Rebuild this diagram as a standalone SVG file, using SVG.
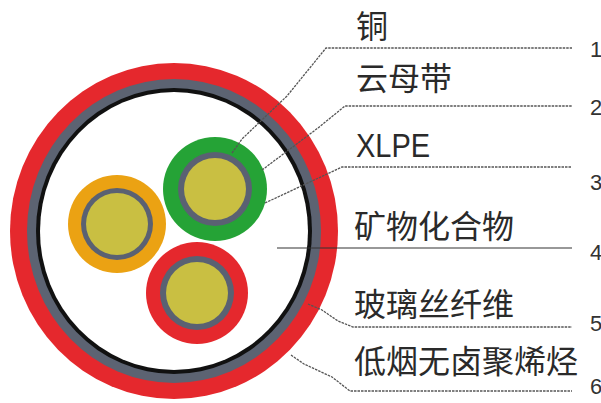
<svg xmlns="http://www.w3.org/2000/svg" width="601" height="403" viewBox="0 0 601 403">
  <style>
    .lbl { font-family: "Noto Sans CJK SC", "Liberation Sans", sans-serif; font-size: 32px; fill: #2a2a2a; }
    .lat { font-family: "Liberation Sans", "Noto Sans", sans-serif; font-size: 29px; fill: #2a2a2a; }
    .num { font-family: "Liberation Sans", sans-serif; font-size: 22px; fill: #333; }
    .lead { fill: none; stroke: #555; stroke-width: 1.3; stroke-dasharray: 2.5 1; }
    .lead-solid { fill: none; stroke: #333; stroke-width: 1.2; }
    .cond { fill: #c9bf42; }
    .screen { fill: #5a6172; }
  </style>

  <rect width="601" height="403" fill="#fff"/>

  <!-- outer sheath, armour band and mineral filling -->
  <g id="sheath">
    <ellipse cx="174" cy="231" rx="164" ry="168" fill="#e5282d"/>
    <ellipse cx="174" cy="231" rx="147" ry="152" fill="#5c6372"/>
    <ellipse cx="174" cy="231" rx="138" ry="143" fill="#111"/>
    <ellipse cx="174" cy="231" rx="134" ry="139" fill="#fff"/>
  </g>

  <!-- three insulated cores -->
  <g id="core-orange">
    <circle cx="117" cy="224" r="49" fill="#eba213"/>
    <circle cx="117" cy="224" r="36" class="screen"/>
    <circle cx="117" cy="224" r="31" class="cond"/>
  </g>
  <g id="core-green">
    <circle cx="215" cy="189" r="52" fill="#25a336"/>
    <circle cx="215" cy="189" r="37" class="screen"/>
    <circle cx="215" cy="189" r="31" class="cond"/>
  </g>
  <g id="core-red">
    <circle cx="197" cy="293" r="51" fill="#e5282d"/>
    <circle cx="197" cy="293" r="37" class="screen"/>
    <circle cx="197" cy="293" r="31" class="cond"/>
  </g>

  <!-- leader lines -->
  <g id="connectors">
    <polyline class="lead" points="232,153 242,139 287,96 326,48 572,48"/>
    <polyline class="lead" points="262,170 318,128 345,106 572,106"/>
    <polyline class="lead" points="265,203 342,167 572,167"/>
    <line class="lead-solid" x1="277" y1="248" x2="572" y2="248"/>
    <polyline class="lead" points="308,304 322,310 338,321 353,327 572,327"/>
    <polyline class="lead" points="291,355 304,364 332,377 350,391 572,391"/>
  </g>

  <!-- layer names and numbers -->
  <g id="label-1"><text class="lbl" x="356" y="38">铜</text><text class="num" x="590" y="57">1</text></g>
  <g id="label-2"><text class="lbl" x="356" y="90">云母带</text><text class="num" x="590" y="115">2</text></g>
  <g id="label-3"><text class="lat" transform="translate(356,157) scale(1,1.15)">XLPE</text><text class="num" x="590" y="190">3</text></g>
  <g id="label-4"><text class="lbl" x="354" y="238">矿物化合物</text><text class="num" x="590" y="260">4</text></g>
  <g id="label-5"><text class="lbl" x="354" y="316">玻璃丝纤维</text><text class="num" x="590" y="331">5</text></g>
  <g id="label-6"><text class="lbl" x="354" y="373">低烟无卤聚烯烃</text><text class="num" x="590" y="394">6</text></g>
</svg>
